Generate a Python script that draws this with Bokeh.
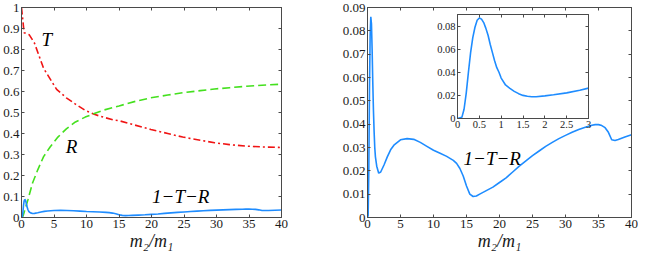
from bokeh.plotting import figure
from bokeh.models import FixedTicker, CustomJSTickFormatter, LinearAxis, Range1d
from bokeh.layouts import row
from bokeh.core.properties import value
from bokeh.embed import file_html
from bokeh.resources import INLINE

# ---- data ----
t_x = [0, 0.1, 0.4, 1.2, 2, 2.7, 3.4, 4.4, 5.4, 6.9, 8.3, 9.8, 11.3, 12.7, 14.2, 15, 17, 19.9, 22.5, 24.8, 27.5, 29.7, 32, 34.6, 37, 39.5, 40]
t_y = [1.0, 0.97, 0.88, 0.87, 0.83, 0.77, 0.71, 0.66, 0.61, 0.57, 0.54, 0.51, 0.49, 0.477, 0.464, 0.461, 0.444, 0.419, 0.40, 0.383, 0.368, 0.356, 0.347, 0.340, 0.336, 0.334, 0.332]

r_x = [0, 0.25, 1, 1.7, 2.5, 3.4, 4.4, 5.6, 6.9, 8.3, 9.8, 11.3, 12.7, 14.2, 15, 17.5, 19.9, 22.5, 24.8, 27.5, 29.7, 32, 34.6, 37, 39.5, 40]
r_y = [0, 0.008, 0.086, 0.164, 0.227, 0.29, 0.336, 0.383, 0.422, 0.455, 0.478, 0.496, 0.512, 0.525, 0.531, 0.553, 0.570, 0.583, 0.594, 0.604, 0.612, 0.618, 0.625, 0.630, 0.634, 0.635]

loss_x = [0, 0.1, 0.2, 0.3, 0.4, 0.5, 0.6, 0.7, 0.8, 0.9, 1.0, 1.1, 1.2, 1.4, 1.7, 2.0, 2.5, 3.0, 3.5, 4, 5, 6, 7, 8, 9, 10, 11, 12, 13, 13.5, 14, 14.5, 15, 15.5, 16, 16.5, 17, 18, 19, 20, 21, 22, 23, 24, 25, 26, 27, 28, 29, 30, 31, 32, 33, 34, 34.5, 35, 35.5, 36, 36.5, 37, 37.5, 38, 39, 40]
loss_y = [0, 0.001, 0.02, 0.055, 0.078, 0.086, 0.083, 0.072, 0.058, 0.046, 0.037, 0.030, 0.026, 0.022, 0.019, 0.0195, 0.0225, 0.026, 0.029, 0.031, 0.0333, 0.0338, 0.0335, 0.0322, 0.0305, 0.0288, 0.0275, 0.0262, 0.0245, 0.0232, 0.0210, 0.0178, 0.0135, 0.0100, 0.0090, 0.0092, 0.0100, 0.0115, 0.0130, 0.0150, 0.0170, 0.0195, 0.0220, 0.0243, 0.0265, 0.0285, 0.0305, 0.0322, 0.0338, 0.0352, 0.0365, 0.0377, 0.0387, 0.0395, 0.0398, 0.0398, 0.0394, 0.0385, 0.0365, 0.0333, 0.0330, 0.0334, 0.0345, 0.0355]

inset_x = [0, 0.1, 0.15, 0.2, 0.25, 0.3, 0.35, 0.4, 0.45, 0.5, 0.55, 0.6, 0.65, 0.7, 0.75, 0.8, 0.85, 0.9, 0.95, 1.0, 1.1, 1.2, 1.3, 1.4, 1.5, 1.6, 1.7, 1.8, 2.0, 2.2, 2.5, 2.8, 3.0]
inset_y = [0, 0.001, 0.008, 0.022, 0.040, 0.057, 0.070, 0.079, 0.085, 0.087, 0.086, 0.083, 0.078, 0.072, 0.064, 0.057, 0.050, 0.044, 0.040, 0.035, 0.029, 0.026, 0.0235, 0.0215, 0.020, 0.0192, 0.0188, 0.0188, 0.0196, 0.0205, 0.0222, 0.0245, 0.0263]

left_xticks = [0, 5, 10, 15, 20, 25, 30, 35, 40]
left_yticks = [0, 0.1, 0.2, 0.3, 0.4, 0.5, 0.6, 0.7, 0.8, 0.9, 1]
right_yticks = [0, 0.01, 0.02, 0.03, 0.04, 0.05, 0.06, 0.07, 0.08, 0.09]
inset_xticks = [0, 0.5, 1, 1.5, 2, 2.5, 3]
inset_yticks = [0, 0.02, 0.04, 0.06, 0.08]

left_label_x = [3.9, 7.7, 24.5]
left_label_y = [0.85, 0.336, 0.10]
left_label_text = ["T", "R", "1\u2212T\u2212R"]
right_label_x = [18.9]
right_label_y = [0.0255]
right_label_text = ["1\u2212T\u2212R"]

X_LABEL = "m\u2082/m\u2081"
FONT = "Liberation Serif"
FRAME = "#4a4a4a"
TXT = "#1a1a1a"
BLUE = "#1e8cff"
GREEN = "#44e01e"
RED = "#f01414"

num_fmt = CustomJSTickFormatter(code="return parseFloat(tick.toFixed(4)).toString();")


def style(p, xt, yt, fs):
    p.xgrid.visible = False
    p.ygrid.visible = False
    p.outline_line_color = FRAME
    p.background_fill_color = "white"
    for ax, t in ((p.below[0], xt), (p.left[0], yt)):
        ax.ticker = FixedTicker(ticks=t)
        ax.formatter = num_fmt
        ax.major_label_text_font = FONT
        ax.major_label_text_font_size = fs
        ax.major_label_text_color = TXT
        ax.major_label_standoff = 2
    for loc, t in (("above", xt), ("right", yt)):
        ax = LinearAxis(ticker=FixedTicker(ticks=t),
                        formatter=CustomJSTickFormatter(code="return '';"))
        ax.major_label_standoff = 0
        ax.major_label_text_font_size = "1px"
        p.add_layout(ax, loc)
    for ax in p.below + p.left + p.above + p.right:
        ax.major_tick_in = 3
        ax.major_tick_out = 0
        ax.minor_tick_in = 0
        ax.minor_tick_out = 0
        ax.axis_line_color = FRAME
        ax.major_tick_line_color = FRAME


def xlabel(p):
    ax = p.below[0]
    ax.axis_label = X_LABEL
    ax.axis_label_text_font = FONT
    ax.axis_label_text_font_style = "italic"
    ax.axis_label_text_font_size = "18px"
    ax.axis_label_text_color = TXT
    ax.axis_label_standoff = 0


# ---- left plot ----
pl = figure(width=322, height=253, x_range=Range1d(0, 40), y_range=Range1d(0, 1),
            output_backend="svg", toolbar_location=None,
            min_border_left=0, min_border_right=41, min_border_top=7, min_border_bottom=0)
style(pl, left_xticks, left_yticks, "13px")
xlabel(pl)
pl.line(t_x, t_y, line_color=RED, line_width=1.6, line_dash="7 3 2 3")
pl.line(r_x, r_y, line_color=GREEN, line_width=1.6, line_dash="8 4")
pl.line(loss_x, loss_y, line_color=BLUE, line_width=1.6)
pl.text(x=left_label_x, y=left_label_y, text=left_label_text,
        text_font=value(FONT), text_font_style="italic", text_font_size="19px",
        text_align="center", text_baseline="middle", text_color="black")

# ---- right plot ----
pr = figure(width=316, height=253, x_range=Range1d(0, 40), y_range=Range1d(0, 0.09),
            output_backend="svg", toolbar_location=None,
            min_border_left=45, min_border_right=7, min_border_top=7, min_border_bottom=0)
style(pr, left_xticks, right_yticks, "13px")
xlabel(pr)
pr.line(loss_x, loss_y, line_color=BLUE, line_width=1.6)
pr.text(x=right_label_x, y=right_label_y, text=right_label_text,
        text_font=value(FONT), text_font_style="italic", text_font_size="19px",
        text_align="center", text_baseline="middle", text_color="black")

# ---- inset (absolutely positioned over the right plot, frame not aligned) ----
pi = figure(width=161, height=124, x_range=Range1d(0, 3), y_range=Range1d(0, 0.09),
            output_backend="svg", toolbar_location=None, frame_align=False,
            min_border_left=24, min_border_right=6, min_border_top=4, min_border_bottom=16,
            styles={"position": "absolute", "left": "433px", "top": "10px", "z-index": "5"})
style(pi, inset_xticks, inset_yticks, "10.5px")
pi.border_fill_alpha = 0
pi.line(inset_x, inset_y, line_color=BLUE, line_width=1.6)

layout = row(pl, pr, pi)
open("out.html", "w").write(file_html(layout, INLINE))
